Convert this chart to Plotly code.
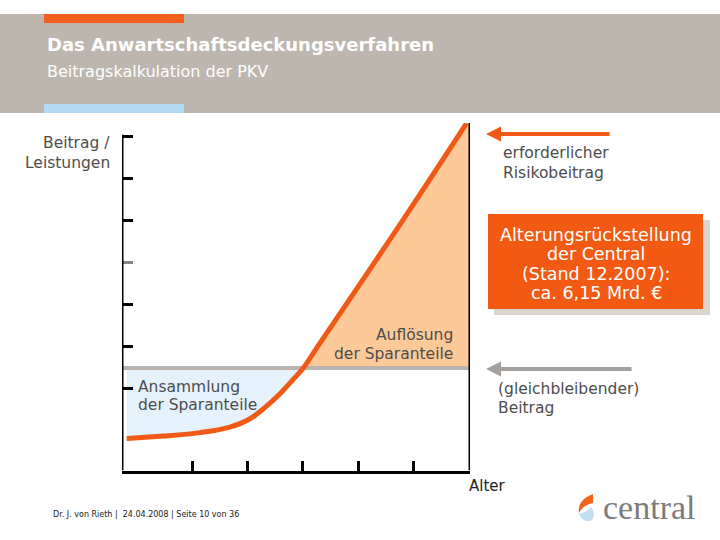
import plotly.graph_objects as go

W, H = 720, 540

# conceptual curve: x = Alter, y = Beitrag / Leistungen (both on a 0..100 scale)
alter = [1.35, 11.9, 22.4, 31.0, 36.8, 41.6, 45.4, 49.1, 52.1, 56.3, 78.9, 99.0]
risikobeitrag = [9.2, 9.9, 10.9, 12.5, 14.9, 18.6, 22.1, 26.1, 29.5, 35.8, 69.3, 99.9]
cross_idx = 8            # where the risk premium meets the level premium
beitrag_level = 29.5     # (gleichbleibender) Beitrag
x_end = 100
y_end = 100
y_axis_top = 96.6

x_ticks = [20.4, 36.2, 52.0, 68.1, 83.9]
y_ticks = [23.5, 35.7, 47.9, 71.9, 83.9, 96.1]
y_ticks_grey = [59.8]

ORANGE = '#F05A16'
PEACH = '#FDC999'
LIGHTBLUE = '#E6F2FB'
GREY = '#B9B4AF'
TXT = '#4d4d4d'
FONT = 'DejaVu Sans'


def px(x):
    return x / W


def py(y):
    return 1 - y / H


fig = go.Figure()

# Ansammlung der Sparanteile (blue area)
fig.add_trace(go.Scatter(
    x=alter[:cross_idx + 1] + [alter[0]],
    y=risikobeitrag[:cross_idx + 1] + [beitrag_level],
    fill='toself', fillcolor=LIGHTBLUE, mode='none', hoverinfo='skip'
))
# Auflösung der Sparanteile (peach area)
fig.add_trace(go.Scatter(
    x=alter[cross_idx:] + [x_end, x_end],
    y=risikobeitrag[cross_idx:] + [y_end, beitrag_level],
    fill='toself', fillcolor=PEACH, mode='none', hoverinfo='skip'
))
# level premium
fig.add_trace(go.Scatter(
    x=[0, x_end], y=[beitrag_level, beitrag_level],
    mode='lines', line=dict(color=GREY, width=4), hoverinfo='skip'
))
# required risk premium
fig.add_trace(go.Scatter(
    x=alter, y=risikobeitrag, mode='lines',
    line=dict(color=ORANGE, width=5, shape='spline', smoothing=1.0),
    hoverinfo='skip'
))
# dummy trace for grey tick axis
fig.add_trace(go.Scatter(x=[None], y=[None], yaxis='y2', showlegend=False))

shapes = [
    # header band
    dict(type='rect', xref='paper', yref='paper', x0=0, x1=1, y0=py(113), y1=py(14),
         fillcolor='#BDB6AE', line_width=0, layer='below'),
    dict(type='rect', xref='paper', yref='paper', x0=px(44), x1=px(184), y0=py(23), y1=py(14),
         fillcolor='#F2601E', line_width=0),
    dict(type='rect', xref='paper', yref='paper', x0=px(44), x1=px(184), y0=py(113), y1=py(104),
         fillcolor='#B5DAF4', line_width=0),
    # left axis line and right boundary
    dict(type='line', xref='x', yref='y', x0=0, x1=0, y0=0, y1=y_axis_top,
         line=dict(color='black', width=3)),
    dict(type='line', xref='x', yref='y', x0=x_end, x1=x_end, y0=0, y1=y_end,
         line=dict(color='black', width=3)),
    # orange info box with shadow
    dict(type='rect', xref='paper', yref='paper', x0=px(494), x1=px(710), y0=py(315), y1=py(220),
         fillcolor='#D9D4CF', line_width=0),
    dict(type='rect', xref='paper', yref='paper', x0=px(488), x1=px(703), y0=py(309), y1=py(214),
         fillcolor='#F25A14', line_width=0),
    # logo flame
    dict(type='path', xref='paper', yref='paper',
         path=f"M {px(593)},{py(494)} Q {px(577)},{py(500)} {px(579)},{py(513)} "
              f"Q {px(583)},{py(505)} {px(593)},{py(503)} Z",
         fillcolor='#F0651E', line_width=0),
    dict(type='path', xref='paper', yref='paper',
         path=f"M {px(579)},{py(514)} Q {px(582)},{py(522)} {px(591)},{py(521)} "
              f"Q {px(597)},{py(515)} {px(591)},{py(507)} Q {px(587)},{py(512)} {px(579)},{py(514)} Z",
         fillcolor='#BFDDF3', line_width=0),
]


def note(text, x, y, size=15.5, color=TXT, xanchor='left', bold=False, family=FONT):
    return dict(text=f'<b>{text}</b>' if bold else text, x=px(x), y=py(y),
                xref='paper', yref='paper', xanchor=xanchor, yanchor='middle',
                showarrow=False, font=dict(family=family, size=size, color=color))


def block(lines, x, ys, **kw):
    return [note(t, x, y, **kw) for t, y in zip(lines, ys)]


annotations = [
    note('Das Anwartschaftsdeckungsverfahren', 45, 44, size=18, color='white', bold=True),
    note('Beitragskalkulation der PKV', 45, 72, size=16, color='white'),
    note('Alter', 487, 486, size=15, color='#222222', xanchor='center'),
    note('Dr. J. von Rieth |  24.04.2008 | Seite 10 von 36', 51, 514, size=8, color='#222222'),
    note('central', 601, 507, size=34, color='#7B7B7B', family='Liberation Serif'),
    # arrows
    dict(text='', x=px(486), y=py(134), xref='paper', yref='paper', showarrow=True,
         ax=125, ay=0, arrowhead=2, arrowsize=0.75, arrowwidth=4, arrowcolor=ORANGE, standoff=0),
    dict(text='', x=px(486), y=py(369), xref='paper', yref='paper', showarrow=True,
         ax=147, ay=0, arrowhead=2, arrowsize=0.75, arrowwidth=4, arrowcolor='#A3A09D', standoff=0),
]
annotations += block(['Beitrag /', 'Leistungen'], 112, [143, 163], xanchor='right')
annotations += block(['erforderlicher', 'Risikobeitrag'], 501, [153, 172.5])
annotations += block(['Alterungsrückstellung', 'der Central', '(Stand 12.2007):', 'ca. 6,15 Mrd. €'],
                     596, [234.5, 254, 274, 293], size=17.5, color='white', xanchor='center')
annotations += block(['Auflösung', 'der Sparanteile'], 455, [335, 354], xanchor='right')
annotations += block(['Ansammlung', 'der Sparanteile'], 136, [386.5, 405])
annotations += block(['(gleichbleibender)', 'Beitrag'], 496, [389, 407.5])

fig.update_layout(
    width=W, height=H,
    margin=dict(l=0, r=0, t=0, b=0),
    paper_bgcolor='white', plot_bgcolor='rgba(0,0,0,0)',
    showlegend=False,
    shapes=shapes,
    annotations=annotations,
    xaxis=dict(domain=[px(122), px(470)], range=[0, x_end], showgrid=False, zeroline=False,
               showline=True, linecolor='black', linewidth=3,
               ticks='inside', ticklen=10, tickwidth=3, tickcolor='black',
               tickvals=x_ticks, showticklabels=False, fixedrange=True),
    yaxis=dict(domain=[1 - 470.5 / H, 1 - 123 / H], range=[0, y_end], showgrid=False,
               zeroline=False, showline=False,
               ticks='inside', ticklen=11, tickwidth=3, tickcolor='black',
               tickvals=y_ticks, showticklabels=False, fixedrange=True),
    yaxis2=dict(domain=[1 - 470.5 / H, 1 - 123 / H], range=[0, y_end], overlaying='y',
                anchor='x', side='left', showgrid=False, zeroline=False, showline=False,
                ticks='inside', ticklen=11, tickwidth=3, tickcolor='#8A8580',
                tickvals=y_ticks_grey, showticklabels=False, fixedrange=True),
)

# remove the default page margin so the figure sits at the window origin
fig.write_html('out.html', config={'displayModeBar': False},
               post_script="document.body.style.margin='0';")
